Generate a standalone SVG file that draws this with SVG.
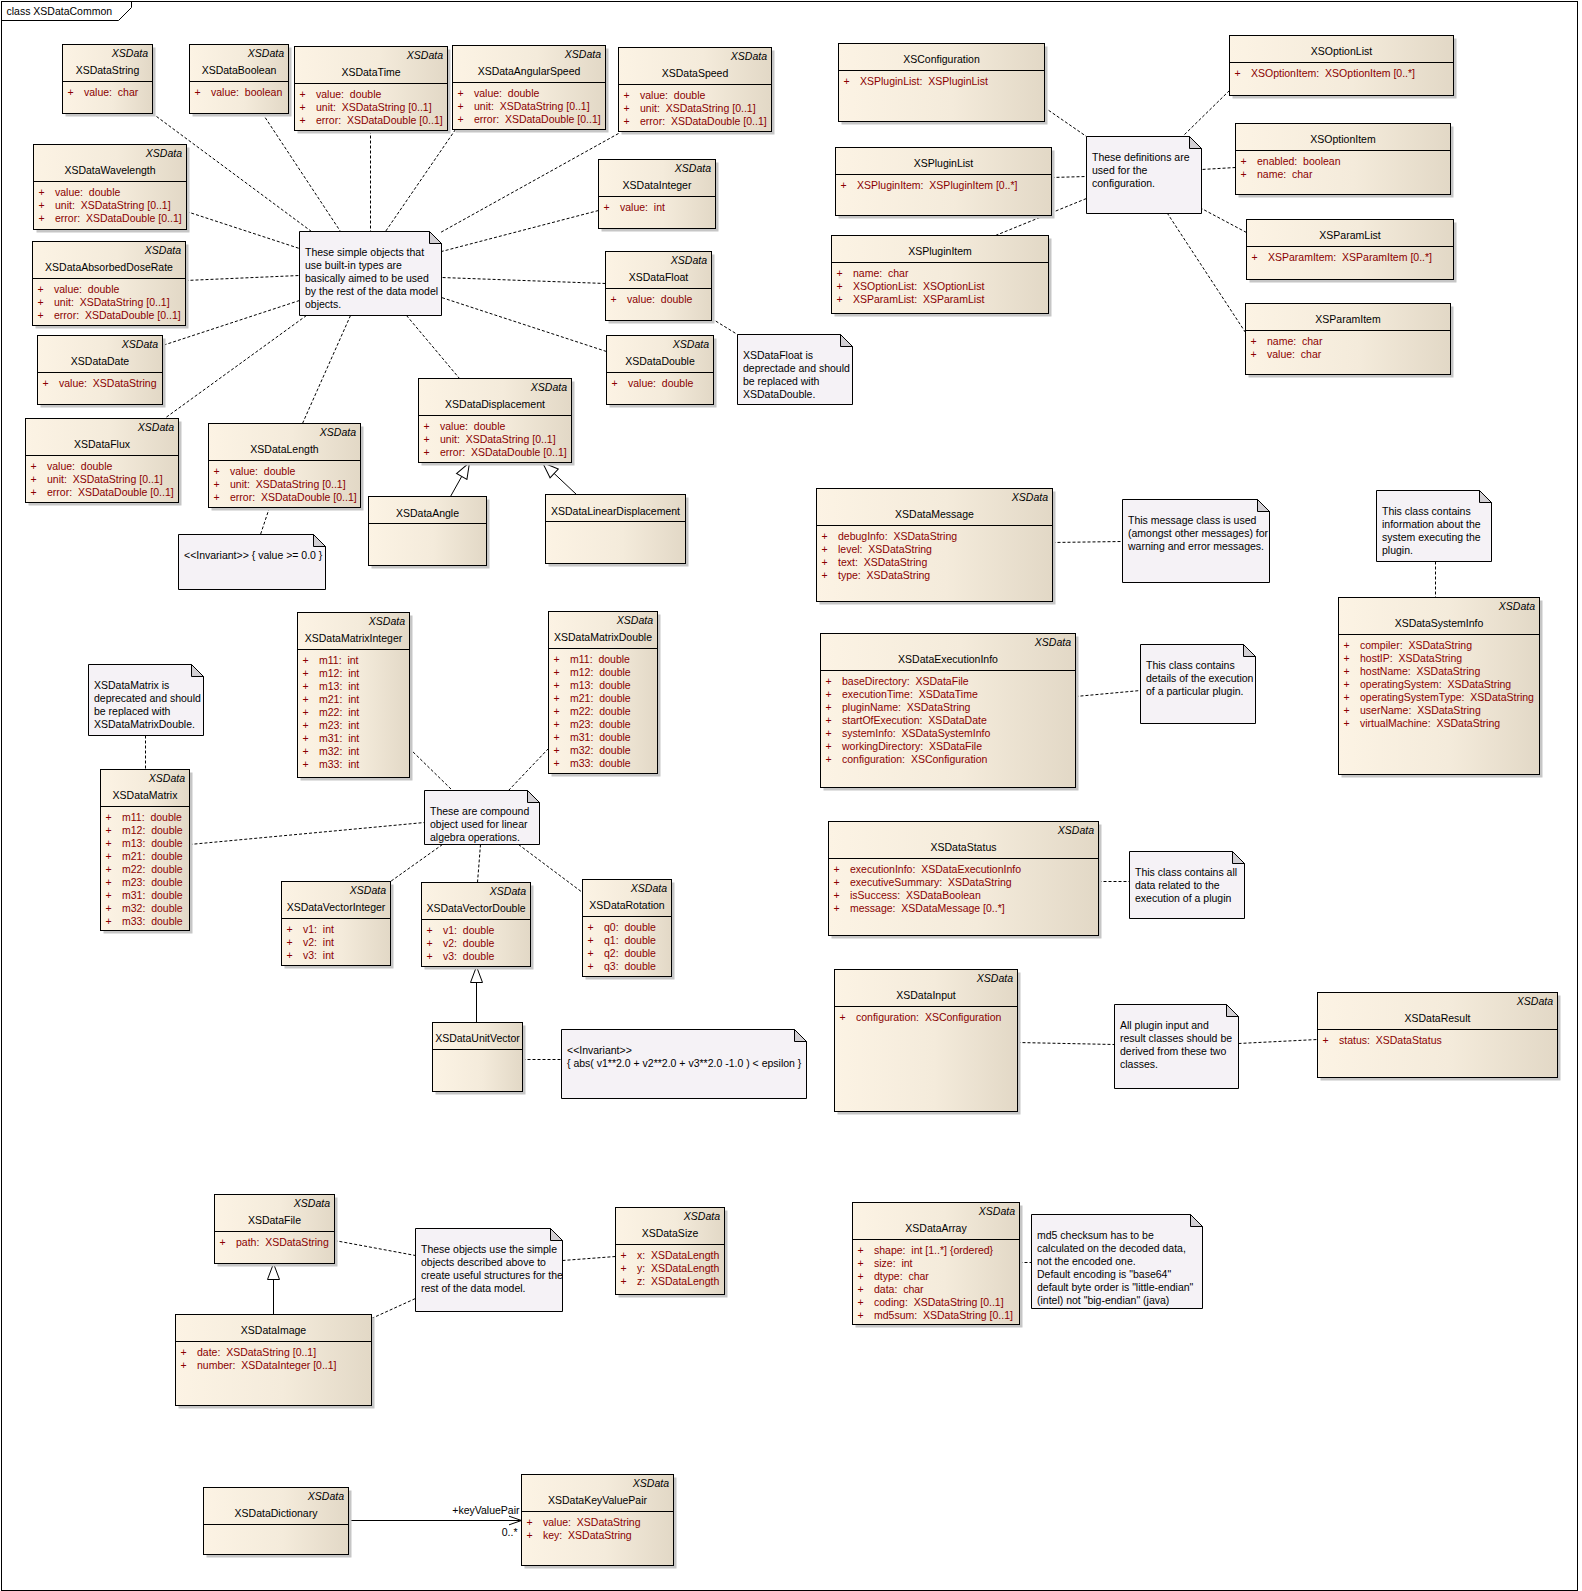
<svg xmlns="http://www.w3.org/2000/svg" width="1582" height="1591" viewBox="0 0 1582 1591">
<defs>
<linearGradient id="g" x1="0" y1="0" x2="1" y2="0">
<stop offset="0" stop-color="#FCF3E4"/>
<stop offset="0.55" stop-color="#F4EBDB"/>
<stop offset="1" stop-color="#E2D8C6"/>
</linearGradient>
<marker id="tri" viewBox="0 0 18 14" refX="17" refY="7" markerWidth="18" markerHeight="14" markerUnits="userSpaceOnUse" orient="auto"><path d="M1,1 L17,7 L1,13 Z" fill="#fff" stroke="#000"/></marker>
<marker id="opn" viewBox="0 0 14 12" refX="13" refY="6" markerWidth="14" markerHeight="12" markerUnits="userSpaceOnUse" orient="auto"><path d="M0,1.5 L13,6 L0,10.5" fill="none" stroke="#000"/></marker>
<style>
text{font-family:"Liberation Sans",Arial,sans-serif;font-size:10.5px;fill:#000;white-space:pre}
.st{font-style:italic;text-anchor:end}
.nm{text-anchor:middle}
.at{fill:#8A0000}
.sh{fill:#C6C6C6}
.bx{fill:url(#g);stroke:#000;stroke-width:1}
.dv{stroke:#000;stroke-width:1}
.nt{fill:#F5F2F6;stroke:#000;stroke-width:1}
.fd{fill:#D2CFD3;stroke:#000;stroke-width:1}
.cn{fill:none;stroke:#000;stroke-width:1;stroke-dasharray:3 2}
.ln{fill:none;stroke:#000;stroke-width:1}
</style>
</defs>
<rect x="0" y="0" width="1582" height="1591" fill="#fff"/>
<g transform="translate(0.5,0.5)">
<g id="frame">
<rect x="1" y="1" width="1576" height="1589" fill="none" stroke="#000"/>
<path d="M1,20 L118,20 L131,7 L131,1" fill="none" stroke="#000"/>
<text x="6" y="14">class XSDataCommon</text>
</g>

<g id="connectors">
<line class="cn" x1="152" y1="113" x2="311" y2="231"/>
<line class="cn" x1="262" y1="113" x2="340" y2="231"/>
<line class="cn" x1="370" y1="130" x2="370" y2="231"/>
<line class="cn" x1="455" y1="129" x2="385" y2="231"/>
<line class="cn" x1="618" y1="133" x2="440" y2="232"/>
<line class="cn" x1="598" y1="210" x2="441" y2="251"/>
<line class="cn" x1="605" y1="283" x2="441" y2="277"/>
<line class="cn" x1="606" y1="351" x2="441" y2="297"/>
<line class="cn" x1="406" y1="315" x2="459" y2="378"/>
<line class="cn" x1="350" y1="315" x2="302" y2="423"/>
<line class="cn" x1="306" y1="315" x2="164" y2="418"/>
<line class="cn" x1="299" y1="300" x2="162" y2="345"/>
<line class="cn" x1="185" y1="280" x2="299" y2="275"/>
<line class="cn" x1="186" y1="211" x2="299" y2="248"/>
<line class="cn" x1="711" y1="318" x2="737" y2="334"/>
<line class="cn" x1="269" y1="507" x2="260" y2="534"/>
<line class="ln" x1="450" y1="496" x2="469" y2="462" marker-end="url(#tri)"/>
<line class="ln" x1="576" y1="494" x2="542" y2="462" marker-end="url(#tri)"/>
<line class="cn" x1="1044" y1="107" x2="1086" y2="136"/>
<line class="cn" x1="1051" y1="177" x2="1086" y2="176"/>
<line class="cn" x1="995" y1="235" x2="1086" y2="198"/>
<line class="cn" x1="1229" y1="90" x2="1182" y2="136"/>
<line class="cn" x1="1235" y1="167" x2="1201" y2="169"/>
<line class="cn" x1="1246" y1="232" x2="1201" y2="208"/>
<line class="cn" x1="1245" y1="332" x2="1167" y2="213"/>
<line class="cn" x1="1052" y1="542" x2="1122" y2="541"/>
<line class="cn" x1="1075" y1="696" x2="1140" y2="690"/>
<line class="cn" x1="1435" y1="561" x2="1435" y2="597"/>
<line class="cn" x1="1098" y1="881" x2="1129" y2="881"/>
<line class="cn" x1="1017" y1="1042" x2="1114" y2="1044"/>
<line class="cn" x1="1238" y1="1043" x2="1317" y2="1039"/>
<line class="cn" x1="145" y1="735" x2="145" y2="769"/>
<line class="cn" x1="409" y1="748" x2="452" y2="790"/>
<line class="cn" x1="548" y1="748" x2="508" y2="790"/>
<line class="cn" x1="189" y1="844" x2="424" y2="822"/>
<line class="cn" x1="442" y1="844" x2="390" y2="881"/>
<line class="cn" x1="480" y1="844" x2="477" y2="882"/>
<line class="cn" x1="518" y1="844" x2="582" y2="892"/>
<line class="ln" x1="476" y1="1022" x2="476" y2="966" marker-end="url(#tri)"/>
<line class="cn" x1="522" y1="1059" x2="561" y2="1059"/>
<line class="ln" x1="273" y1="1314" x2="273" y2="1263" marker-end="url(#tri)"/>
<line class="cn" x1="334" y1="1240" x2="415" y2="1255"/>
<line class="cn" x1="371" y1="1318" x2="415" y2="1298"/>
<line class="cn" x1="562" y1="1260" x2="615" y2="1256"/>
<line class="cn" x1="1019" y1="1262" x2="1031" y2="1262"/>
<line class="ln" x1="348" y1="1520" x2="521" y2="1520" marker-end="url(#opn)"/>
<text x="519" y="1513" text-anchor="end">+keyValuePair</text>
<text x="517" y="1535" text-anchor="end">0..*</text>
</g>

<g id="XSDataString">
<rect class="sh" x="65" y="47" width="90" height="69"/><rect class="bx" x="62" y="44" width="90" height="69"/>
<line class="dv" x1="62" y1="81" x2="152" y2="81"/>
<text class="st" x="147.5" y="56.5">XSData</text><text class="nm" x="107" y="73">XSDataString</text>
<text class="at" x="67" y="95">+</text><text class="at" x="83.5" y="95">value:  char</text>
</g>
<g id="XSDataBoolean">
<rect class="sh" x="192" y="47" width="99" height="69"/><rect class="bx" x="189" y="44" width="99" height="69"/>
<line class="dv" x1="189" y1="81" x2="288" y2="81"/>
<text class="st" x="283.5" y="56.5">XSData</text><text class="nm" x="238.5" y="73">XSDataBoolean</text>
<text class="at" x="194" y="95">+</text><text class="at" x="210.5" y="95">value:  boolean</text>
</g>
<g id="XSDataTime">
<rect class="sh" x="297" y="49" width="153" height="84"/><rect class="bx" x="294" y="46" width="153" height="84"/>
<line class="dv" x1="294" y1="83" x2="447" y2="83"/>
<text class="st" x="442.5" y="58.5">XSData</text><text class="nm" x="370.5" y="75">XSDataTime</text>
<text class="at" x="299" y="97">+</text><text class="at" x="315.5" y="97">value:  double</text>
<text class="at" x="299" y="110">+</text><text class="at" x="315.5" y="110">unit:  XSDataString [0..1]</text>
<text class="at" x="299" y="123">+</text><text class="at" x="315.5" y="123">error:  XSDataDouble [0..1]</text>
</g>
<g id="XSDataAngularSpeed">
<rect class="sh" x="455" y="48" width="153" height="84"/><rect class="bx" x="452" y="45" width="153" height="84"/>
<line class="dv" x1="452" y1="82" x2="605" y2="82"/>
<text class="st" x="600.5" y="57.5">XSData</text><text class="nm" x="528.5" y="74">XSDataAngularSpeed</text>
<text class="at" x="457" y="96">+</text><text class="at" x="473.5" y="96">value:  double</text>
<text class="at" x="457" y="109">+</text><text class="at" x="473.5" y="109">unit:  XSDataString [0..1]</text>
<text class="at" x="457" y="122">+</text><text class="at" x="473.5" y="122">error:  XSDataDouble [0..1]</text>
</g>
<g id="XSDataSpeed">
<rect class="sh" x="621" y="50" width="153" height="84"/><rect class="bx" x="618" y="47" width="153" height="84"/>
<line class="dv" x1="618" y1="84" x2="771" y2="84"/>
<text class="st" x="766.5" y="59.5">XSData</text><text class="nm" x="694.5" y="76">XSDataSpeed</text>
<text class="at" x="623" y="98">+</text><text class="at" x="639.5" y="98">value:  double</text>
<text class="at" x="623" y="111">+</text><text class="at" x="639.5" y="111">unit:  XSDataString [0..1]</text>
<text class="at" x="623" y="124">+</text><text class="at" x="639.5" y="124">error:  XSDataDouble [0..1]</text>
</g>
<g id="XSDataInteger">
<rect class="sh" x="601" y="162" width="117" height="69"/><rect class="bx" x="598" y="159" width="117" height="69"/>
<line class="dv" x1="598" y1="196" x2="715" y2="196"/>
<text class="st" x="710.5" y="171.5">XSData</text><text class="nm" x="656.5" y="188">XSDataInteger</text>
<text class="at" x="603" y="210">+</text><text class="at" x="619.5" y="210">value:  int</text>
</g>
<g id="XSDataFloat">
<rect class="sh" x="608" y="254" width="106" height="69"/><rect class="bx" x="605" y="251" width="106" height="69"/>
<line class="dv" x1="605" y1="288" x2="711" y2="288"/>
<text class="st" x="706.5" y="263.5">XSData</text><text class="nm" x="658" y="280">XSDataFloat</text>
<text class="at" x="610" y="302">+</text><text class="at" x="626.5" y="302">value:  double</text>
</g>
<g id="XSDataDouble">
<rect class="sh" x="609" y="338" width="107" height="69"/><rect class="bx" x="606" y="335" width="107" height="69"/>
<line class="dv" x1="606" y1="372" x2="713" y2="372"/>
<text class="st" x="708.5" y="347.5">XSData</text><text class="nm" x="659.5" y="364">XSDataDouble</text>
<text class="at" x="611" y="386">+</text><text class="at" x="627.5" y="386">value:  double</text>
</g>
<g id="XSDataWavelength">
<rect class="sh" x="36" y="147" width="153" height="85"/><rect class="bx" x="33" y="144" width="153" height="85"/>
<line class="dv" x1="33" y1="181" x2="186" y2="181"/>
<text class="st" x="181.5" y="156.5">XSData</text><text class="nm" x="109.5" y="173">XSDataWavelength</text>
<text class="at" x="38" y="195">+</text><text class="at" x="54.5" y="195">value:  double</text>
<text class="at" x="38" y="208">+</text><text class="at" x="54.5" y="208">unit:  XSDataString [0..1]</text>
<text class="at" x="38" y="221">+</text><text class="at" x="54.5" y="221">error:  XSDataDouble [0..1]</text>
</g>
<g id="XSDataAbsorbedDoseRate">
<rect class="sh" x="35" y="244" width="153" height="84"/><rect class="bx" x="32" y="241" width="153" height="84"/>
<line class="dv" x1="32" y1="278" x2="185" y2="278"/>
<text class="st" x="180.5" y="253.5">XSData</text><text class="nm" x="108.5" y="270">XSDataAbsorbedDoseRate</text>
<text class="at" x="37" y="292">+</text><text class="at" x="53.5" y="292">value:  double</text>
<text class="at" x="37" y="305">+</text><text class="at" x="53.5" y="305">unit:  XSDataString [0..1]</text>
<text class="at" x="37" y="318">+</text><text class="at" x="53.5" y="318">error:  XSDataDouble [0..1]</text>
</g>
<g id="XSDataDate">
<rect class="sh" x="40" y="338" width="125" height="69"/><rect class="bx" x="37" y="335" width="125" height="69"/>
<line class="dv" x1="37" y1="372" x2="162" y2="372"/>
<text class="st" x="157.5" y="347.5">XSData</text><text class="nm" x="99.5" y="364">XSDataDate</text>
<text class="at" x="42" y="386">+</text><text class="at" x="58.5" y="386">value:  XSDataString</text>
</g>
<g id="XSDataFlux">
<rect class="sh" x="28" y="421" width="153" height="84"/><rect class="bx" x="25" y="418" width="153" height="84"/>
<line class="dv" x1="25" y1="455" x2="178" y2="455"/>
<text class="st" x="173.5" y="430.5">XSData</text><text class="nm" x="101.5" y="447">XSDataFlux</text>
<text class="at" x="30" y="469">+</text><text class="at" x="46.5" y="469">value:  double</text>
<text class="at" x="30" y="482">+</text><text class="at" x="46.5" y="482">unit:  XSDataString [0..1]</text>
<text class="at" x="30" y="495">+</text><text class="at" x="46.5" y="495">error:  XSDataDouble [0..1]</text>
</g>
<g id="XSDataLength">
<rect class="sh" x="211" y="426" width="152" height="84"/><rect class="bx" x="208" y="423" width="152" height="84"/>
<line class="dv" x1="208" y1="460" x2="360" y2="460"/>
<text class="st" x="355.5" y="435.5">XSData</text><text class="nm" x="284" y="452">XSDataLength</text>
<text class="at" x="213" y="474">+</text><text class="at" x="229.5" y="474">value:  double</text>
<text class="at" x="213" y="487">+</text><text class="at" x="229.5" y="487">unit:  XSDataString [0..1]</text>
<text class="at" x="213" y="500">+</text><text class="at" x="229.5" y="500">error:  XSDataDouble [0..1]</text>
</g>
<g id="XSDataDisplacement">
<rect class="sh" x="421" y="381" width="153" height="84"/><rect class="bx" x="418" y="378" width="153" height="84"/>
<line class="dv" x1="418" y1="415" x2="571" y2="415"/>
<text class="st" x="566.5" y="390.5">XSData</text><text class="nm" x="494.5" y="407">XSDataDisplacement</text>
<text class="at" x="423" y="429">+</text><text class="at" x="439.5" y="429">value:  double</text>
<text class="at" x="423" y="442">+</text><text class="at" x="439.5" y="442">unit:  XSDataString [0..1]</text>
<text class="at" x="423" y="455">+</text><text class="at" x="439.5" y="455">error:  XSDataDouble [0..1]</text>
</g>
<g id="XSDataAngle">
<rect class="sh" x="371" y="499" width="118" height="69"/><rect class="bx" x="368" y="496" width="118" height="69"/>
<line class="dv" x1="368" y1="523" x2="486" y2="523"/>
<text class="nm" x="427" y="516">XSDataAngle</text>
</g>
<g id="XSDataLinearDisplacement">
<rect class="sh" x="548" y="497" width="140" height="69"/><rect class="bx" x="545" y="494" width="140" height="69"/>
<line class="dv" x1="545" y1="521" x2="685" y2="521"/>
<text class="nm" x="615" y="514">XSDataLinearDisplacement</text>
</g>
<g id="note-simple">
<path class="nt" d="M299,231 H429 L441,243 V315 H299 Z"/><path class="fd" d="M429,231 V243 H441 Z"/>
<text x="304.5" y="255">These simple objects that</text>
<text x="304.5" y="268">use built-in types are</text>
<text x="304.5" y="281">basically aimed to be used</text>
<text x="304.5" y="294">by the rest of the data model</text>
<text x="304.5" y="307">objects.</text>
</g>
<g id="note-float">
<path class="nt" d="M737,334 H840 L852,346 V404 H737 Z"/><path class="fd" d="M840,334 V346 H852 Z"/>
<text x="742.5" y="358.5">XSDataFloat is</text>
<text x="742.5" y="371.5">deprectade and should</text>
<text x="742.5" y="384.5">be replaced with</text>
<text x="742.5" y="397.5">XSDataDouble.</text>
</g>
<g id="note-length">
<path class="nt" d="M178,534 H313 L325,546 V589 H178 Z"/><path class="fd" d="M313,534 V546 H325 Z"/>
<text x="183.5" y="558">&lt;&lt;Invariant&gt;&gt; { value &gt;= 0.0 }</text>
</g>

<g id="XSConfiguration">
<rect class="sh" x="841" y="46" width="206" height="78"/><rect class="bx" x="838" y="43" width="206" height="78"/>
<line class="dv" x1="838" y1="70" x2="1044" y2="70"/>
<text class="nm" x="941" y="62.5">XSConfiguration</text>
<text class="at" x="843" y="84">+</text><text class="at" x="859.5" y="84">XSPluginList:  XSPluginList</text>
</g>
<g id="XSPluginList">
<rect class="sh" x="838" y="150" width="216" height="68"/><rect class="bx" x="835" y="147" width="216" height="68"/>
<line class="dv" x1="835" y1="174" x2="1051" y2="174"/>
<text class="nm" x="943" y="166.5">XSPluginList</text>
<text class="at" x="840" y="188">+</text><text class="at" x="856.5" y="188">XSPluginItem:  XSPluginItem [0..*]</text>
</g>
<g id="XSPluginItem">
<rect class="sh" x="834" y="238" width="217" height="78"/><rect class="bx" x="831" y="235" width="217" height="78"/>
<line class="dv" x1="831" y1="262" x2="1048" y2="262"/>
<text class="nm" x="939.5" y="254.5">XSPluginItem</text>
<text class="at" x="836" y="276">+</text><text class="at" x="852.5" y="276">name:  char</text>
<text class="at" x="836" y="289">+</text><text class="at" x="852.5" y="289">XSOptionList:  XSOptionList</text>
<text class="at" x="836" y="302">+</text><text class="at" x="852.5" y="302">XSParamList:  XSParamList</text>
</g>
<g id="note-config">
<path class="nt" d="M1086,136 H1189 L1201,148 V213 H1086 Z"/><path class="fd" d="M1189,136 V148 H1201 Z"/>
<text x="1091.5" y="160">These definitions are</text>
<text x="1091.5" y="173">used for the</text>
<text x="1091.5" y="186">configuration.</text>
</g>
<g id="XSOptionList">
<rect class="sh" x="1232" y="38" width="224" height="60"/><rect class="bx" x="1229" y="35" width="224" height="60"/>
<line class="dv" x1="1229" y1="62" x2="1453" y2="62"/>
<text class="nm" x="1341" y="54.5">XSOptionList</text>
<text class="at" x="1234" y="76">+</text><text class="at" x="1250.5" y="76">XSOptionItem:  XSOptionItem [0..*]</text>
</g>
<g id="XSOptionItem">
<rect class="sh" x="1238" y="126" width="215" height="71"/><rect class="bx" x="1235" y="123" width="215" height="71"/>
<line class="dv" x1="1235" y1="150" x2="1450" y2="150"/>
<text class="nm" x="1342.5" y="142.5">XSOptionItem</text>
<text class="at" x="1240" y="164">+</text><text class="at" x="1256.5" y="164">enabled:  boolean</text>
<text class="at" x="1240" y="177">+</text><text class="at" x="1256.5" y="177">name:  char</text>
</g>
<g id="XSParamList">
<rect class="sh" x="1249" y="222" width="207" height="60"/><rect class="bx" x="1246" y="219" width="207" height="60"/>
<line class="dv" x1="1246" y1="246" x2="1453" y2="246"/>
<text class="nm" x="1349.5" y="238.5">XSParamList</text>
<text class="at" x="1251" y="260">+</text><text class="at" x="1267.5" y="260">XSParamItem:  XSParamItem [0..*]</text>
</g>
<g id="XSParamItem">
<rect class="sh" x="1248" y="306" width="205" height="71"/><rect class="bx" x="1245" y="303" width="205" height="71"/>
<line class="dv" x1="1245" y1="330" x2="1450" y2="330"/>
<text class="nm" x="1347.5" y="322.5">XSParamItem</text>
<text class="at" x="1250" y="344">+</text><text class="at" x="1266.5" y="344">name:  char</text>
<text class="at" x="1250" y="357">+</text><text class="at" x="1266.5" y="357">value:  char</text>
</g>

<g id="XSDataMessage">
<rect class="sh" x="819" y="491" width="236" height="113"/><rect class="bx" x="816" y="488" width="236" height="113"/>
<line class="dv" x1="816" y1="525" x2="1052" y2="525"/>
<text class="st" x="1047.5" y="500.5">XSData</text><text class="nm" x="934" y="517">XSDataMessage</text>
<text class="at" x="821" y="539">+</text><text class="at" x="837.5" y="539">debugInfo:  XSDataString</text>
<text class="at" x="821" y="552">+</text><text class="at" x="837.5" y="552">level:  XSDataString</text>
<text class="at" x="821" y="565">+</text><text class="at" x="837.5" y="565">text:  XSDataString</text>
<text class="at" x="821" y="578">+</text><text class="at" x="837.5" y="578">type:  XSDataString</text>
</g>
<g id="note-message">
<path class="nt" d="M1122,499 H1257 L1269,511 V582 H1122 Z"/><path class="fd" d="M1257,499 V511 H1269 Z"/>
<text x="1127.5" y="523.5">This message class is used</text>
<text x="1127.5" y="536.5">(amongst other messages) for</text>
<text x="1127.5" y="549.5">warning and error messages.</text>
</g>
<g id="XSDataExecutionInfo">
<rect class="sh" x="823" y="636" width="255" height="154"/><rect class="bx" x="820" y="633" width="255" height="154"/>
<line class="dv" x1="820" y1="670" x2="1075" y2="670"/>
<text class="st" x="1070.5" y="645.5">XSData</text><text class="nm" x="947.5" y="662">XSDataExecutionInfo</text>
<text class="at" x="825" y="684">+</text><text class="at" x="841.5" y="684">baseDirectory:  XSDataFile</text>
<text class="at" x="825" y="697">+</text><text class="at" x="841.5" y="697">executionTime:  XSDataTime</text>
<text class="at" x="825" y="710">+</text><text class="at" x="841.5" y="710">pluginName:  XSDataString</text>
<text class="at" x="825" y="723">+</text><text class="at" x="841.5" y="723">startOfExecution:  XSDataDate</text>
<text class="at" x="825" y="736">+</text><text class="at" x="841.5" y="736">systemInfo:  XSDataSystemInfo</text>
<text class="at" x="825" y="749">+</text><text class="at" x="841.5" y="749">workingDirectory:  XSDataFile</text>
<text class="at" x="825" y="762">+</text><text class="at" x="841.5" y="762">configuration:  XSConfiguration</text>
</g>
<g id="note-execution">
<path class="nt" d="M1140,644 H1243 L1255,656 V723 H1140 Z"/><path class="fd" d="M1243,644 V656 H1255 Z"/>
<text x="1145.5" y="668.5">This class contains</text>
<text x="1145.5" y="681.5">details of the execution</text>
<text x="1145.5" y="694.5">of a particular plugin.</text>
</g>
<g id="note-system">
<path class="nt" d="M1376,490 H1479 L1491,502 V561 H1376 Z"/><path class="fd" d="M1479,490 V502 H1491 Z"/>
<text x="1381.5" y="514">This class contains</text>
<text x="1381.5" y="527">information about the</text>
<text x="1381.5" y="540">system executing the</text>
<text x="1381.5" y="553">plugin.</text>
</g>
<g id="XSDataSystemInfo">
<rect class="sh" x="1341" y="600" width="201" height="177"/><rect class="bx" x="1338" y="597" width="201" height="177"/>
<line class="dv" x1="1338" y1="634" x2="1539" y2="634"/>
<text class="st" x="1534.5" y="609.5">XSData</text><text class="nm" x="1438.5" y="626">XSDataSystemInfo</text>
<text class="at" x="1343" y="648">+</text><text class="at" x="1359.5" y="648">compiler:  XSDataString</text>
<text class="at" x="1343" y="661">+</text><text class="at" x="1359.5" y="661">hostIP:  XSDataString</text>
<text class="at" x="1343" y="674">+</text><text class="at" x="1359.5" y="674">hostName:  XSDataString</text>
<text class="at" x="1343" y="687">+</text><text class="at" x="1359.5" y="687">operatingSystem:  XSDataString</text>
<text class="at" x="1343" y="700">+</text><text class="at" x="1359.5" y="700">operatingSystemType:  XSDataString</text>
<text class="at" x="1343" y="713">+</text><text class="at" x="1359.5" y="713">userName:  XSDataString</text>
<text class="at" x="1343" y="726">+</text><text class="at" x="1359.5" y="726">virtualMachine:  XSDataString</text>
</g>
<g id="XSDataStatus">
<rect class="sh" x="831" y="824" width="270" height="114"/><rect class="bx" x="828" y="821" width="270" height="114"/>
<line class="dv" x1="828" y1="858" x2="1098" y2="858"/>
<text class="st" x="1093.5" y="833.5">XSData</text><text class="nm" x="963" y="850">XSDataStatus</text>
<text class="at" x="833" y="872">+</text><text class="at" x="849.5" y="872">executionInfo:  XSDataExecutionInfo</text>
<text class="at" x="833" y="885">+</text><text class="at" x="849.5" y="885">executiveSummary:  XSDataString</text>
<text class="at" x="833" y="898">+</text><text class="at" x="849.5" y="898">isSuccess:  XSDataBoolean</text>
<text class="at" x="833" y="911">+</text><text class="at" x="849.5" y="911">message:  XSDataMessage [0..*]</text>
</g>
<g id="note-status">
<path class="nt" d="M1129,851 H1232 L1244,863 V918 H1129 Z"/><path class="fd" d="M1232,851 V863 H1244 Z"/>
<text x="1134.5" y="875">This class contains all</text>
<text x="1134.5" y="888">data related to the</text>
<text x="1134.5" y="901">execution of a plugin</text>
</g>
<g id="XSDataInput">
<rect class="sh" x="837" y="972" width="183" height="142"/><rect class="bx" x="834" y="969" width="183" height="142"/>
<line class="dv" x1="834" y1="1006" x2="1017" y2="1006"/>
<text class="st" x="1012.5" y="981.5">XSData</text><text class="nm" x="925.5" y="998">XSDataInput</text>
<text class="at" x="839" y="1020">+</text><text class="at" x="855.5" y="1020">configuration:  XSConfiguration</text>
</g>
<g id="note-plugin">
<path class="nt" d="M1114,1004 H1226 L1238,1016 V1088 H1114 Z"/><path class="fd" d="M1226,1004 V1016 H1238 Z"/>
<text x="1119.5" y="1028.5">All plugin input and</text>
<text x="1119.5" y="1041.5">result classes should be</text>
<text x="1119.5" y="1054.5">derived from these two</text>
<text x="1119.5" y="1067.5">classes.</text>
</g>
<g id="XSDataResult">
<rect class="sh" x="1320" y="995" width="240" height="85"/><rect class="bx" x="1317" y="992" width="240" height="85"/>
<line class="dv" x1="1317" y1="1029" x2="1557" y2="1029"/>
<text class="st" x="1552.5" y="1004.5">XSData</text><text class="nm" x="1437" y="1021">XSDataResult</text>
<text class="at" x="1322" y="1043">+</text><text class="at" x="1338.5" y="1043">status:  XSDataStatus</text>
</g>

<g id="note-matrix">
<path class="nt" d="M88,664 H191 L203,676 V735 H88 Z"/><path class="fd" d="M191,664 V676 H203 Z"/>
<text x="93.5" y="688">XSDataMatrix is</text>
<text x="93.5" y="701">deprecated and should</text>
<text x="93.5" y="714">be replaced with</text>
<text x="93.5" y="727">XSDataMatrixDouble.</text>
</g>
<g id="XSDataMatrix">
<rect class="sh" x="103" y="772" width="89" height="161"/><rect class="bx" x="100" y="769" width="89" height="161"/>
<line class="dv" x1="100" y1="806" x2="189" y2="806"/>
<text class="st" x="184.5" y="781.5">XSData</text><text class="nm" x="144.5" y="798">XSDataMatrix</text>
<text class="at" x="105" y="820">+</text><text class="at" x="121.5" y="820">m11:  double</text>
<text class="at" x="105" y="833">+</text><text class="at" x="121.5" y="833">m12:  double</text>
<text class="at" x="105" y="846">+</text><text class="at" x="121.5" y="846">m13:  double</text>
<text class="at" x="105" y="859">+</text><text class="at" x="121.5" y="859">m21:  double</text>
<text class="at" x="105" y="872">+</text><text class="at" x="121.5" y="872">m22:  double</text>
<text class="at" x="105" y="885">+</text><text class="at" x="121.5" y="885">m23:  double</text>
<text class="at" x="105" y="898">+</text><text class="at" x="121.5" y="898">m31:  double</text>
<text class="at" x="105" y="911">+</text><text class="at" x="121.5" y="911">m32:  double</text>
<text class="at" x="105" y="924">+</text><text class="at" x="121.5" y="924">m33:  double</text>
</g>
<g id="XSDataMatrixInteger">
<rect class="sh" x="300" y="615" width="112" height="165"/><rect class="bx" x="297" y="612" width="112" height="165"/>
<line class="dv" x1="297" y1="649" x2="409" y2="649"/>
<text class="st" x="404.5" y="624.5">XSData</text><text class="nm" x="353" y="641">XSDataMatrixInteger</text>
<text class="at" x="302" y="663">+</text><text class="at" x="318.5" y="663">m11:  int</text>
<text class="at" x="302" y="676">+</text><text class="at" x="318.5" y="676">m12:  int</text>
<text class="at" x="302" y="689">+</text><text class="at" x="318.5" y="689">m13:  int</text>
<text class="at" x="302" y="702">+</text><text class="at" x="318.5" y="702">m21:  int</text>
<text class="at" x="302" y="715">+</text><text class="at" x="318.5" y="715">m22:  int</text>
<text class="at" x="302" y="728">+</text><text class="at" x="318.5" y="728">m23:  int</text>
<text class="at" x="302" y="741">+</text><text class="at" x="318.5" y="741">m31:  int</text>
<text class="at" x="302" y="754">+</text><text class="at" x="318.5" y="754">m32:  int</text>
<text class="at" x="302" y="767">+</text><text class="at" x="318.5" y="767">m33:  int</text>
</g>
<g id="XSDataMatrixDouble">
<rect class="sh" x="551" y="614" width="109" height="162"/><rect class="bx" x="548" y="611" width="109" height="162"/>
<line class="dv" x1="548" y1="648" x2="657" y2="648"/>
<text class="st" x="652.5" y="623.5">XSData</text><text class="nm" x="602.5" y="640">XSDataMatrixDouble</text>
<text class="at" x="553" y="662">+</text><text class="at" x="569.5" y="662">m11:  double</text>
<text class="at" x="553" y="675">+</text><text class="at" x="569.5" y="675">m12:  double</text>
<text class="at" x="553" y="688">+</text><text class="at" x="569.5" y="688">m13:  double</text>
<text class="at" x="553" y="701">+</text><text class="at" x="569.5" y="701">m21:  double</text>
<text class="at" x="553" y="714">+</text><text class="at" x="569.5" y="714">m22:  double</text>
<text class="at" x="553" y="727">+</text><text class="at" x="569.5" y="727">m23:  double</text>
<text class="at" x="553" y="740">+</text><text class="at" x="569.5" y="740">m31:  double</text>
<text class="at" x="553" y="753">+</text><text class="at" x="569.5" y="753">m32:  double</text>
<text class="at" x="553" y="766">+</text><text class="at" x="569.5" y="766">m33:  double</text>
</g>
<g id="note-linear">
<path class="nt" d="M424,790 H527 L539,802 V844 H424 Z"/><path class="fd" d="M527,790 V802 H539 Z"/>
<text x="429.5" y="814">These are compound</text>
<text x="429.5" y="827">object used for linear</text>
<text x="429.5" y="840">algebra operations.</text>
</g>
<g id="XSDataVectorInteger">
<rect class="sh" x="284" y="884" width="109" height="84"/><rect class="bx" x="281" y="881" width="109" height="84"/>
<line class="dv" x1="281" y1="918" x2="390" y2="918"/>
<text class="st" x="385.5" y="893.5">XSData</text><text class="nm" x="335.5" y="910">XSDataVectorInteger</text>
<text class="at" x="286" y="932">+</text><text class="at" x="302.5" y="932">v1:  int</text>
<text class="at" x="286" y="945">+</text><text class="at" x="302.5" y="945">v2:  int</text>
<text class="at" x="286" y="958">+</text><text class="at" x="302.5" y="958">v3:  int</text>
</g>
<g id="XSDataVectorDouble">
<rect class="sh" x="424" y="885" width="109" height="84"/><rect class="bx" x="421" y="882" width="109" height="84"/>
<line class="dv" x1="421" y1="919" x2="530" y2="919"/>
<text class="st" x="525.5" y="894.5">XSData</text><text class="nm" x="475.5" y="911">XSDataVectorDouble</text>
<text class="at" x="426" y="933">+</text><text class="at" x="442.5" y="933">v1:  double</text>
<text class="at" x="426" y="946">+</text><text class="at" x="442.5" y="946">v2:  double</text>
<text class="at" x="426" y="959">+</text><text class="at" x="442.5" y="959">v3:  double</text>
</g>
<g id="XSDataRotation">
<rect class="sh" x="585" y="882" width="89" height="97"/><rect class="bx" x="582" y="879" width="89" height="97"/>
<line class="dv" x1="582" y1="916" x2="671" y2="916"/>
<text class="st" x="666.5" y="891.5">XSData</text><text class="nm" x="626.5" y="908">XSDataRotation</text>
<text class="at" x="587" y="930">+</text><text class="at" x="603.5" y="930">q0:  double</text>
<text class="at" x="587" y="943">+</text><text class="at" x="603.5" y="943">q1:  double</text>
<text class="at" x="587" y="956">+</text><text class="at" x="603.5" y="956">q2:  double</text>
<text class="at" x="587" y="969">+</text><text class="at" x="603.5" y="969">q3:  double</text>
</g>
<g id="XSDataUnitVector">
<rect class="sh" x="435" y="1025" width="90" height="69"/><rect class="bx" x="432" y="1022" width="90" height="69"/>
<line class="dv" x1="432" y1="1049" x2="522" y2="1049"/>
<text class="nm" x="477" y="1041.5">XSDataUnitVector</text>
</g>
<g id="note-unitvector">
<path class="nt" d="M561,1029 H794 L806,1041 V1098 H561 Z"/><path class="fd" d="M794,1029 V1041 H806 Z"/>
<text x="566.5" y="1053">&lt;&lt;Invariant&gt;&gt;</text>
<text x="566.5" y="1066">{ abs( v1**2.0 + v2**2.0 + v3**2.0 -1.0 ) &lt; epsilon }</text>
</g>

<g id="XSDataFile">
<rect class="sh" x="217" y="1197" width="120" height="69"/><rect class="bx" x="214" y="1194" width="120" height="69"/>
<line class="dv" x1="214" y1="1231" x2="334" y2="1231"/>
<text class="st" x="329.5" y="1206.5">XSData</text><text class="nm" x="274" y="1223">XSDataFile</text>
<text class="at" x="219" y="1245">+</text><text class="at" x="235.5" y="1245">path:  XSDataString</text>
</g>
<g id="XSDataImage">
<rect class="sh" x="178" y="1317" width="196" height="91"/><rect class="bx" x="175" y="1314" width="196" height="91"/>
<line class="dv" x1="175" y1="1341" x2="371" y2="1341"/>
<text class="nm" x="273" y="1333.5">XSDataImage</text>
<text class="at" x="180" y="1355">+</text><text class="at" x="196.5" y="1355">date:  XSDataString [0..1]</text>
<text class="at" x="180" y="1368">+</text><text class="at" x="196.5" y="1368">number:  XSDataInteger [0..1]</text>
</g>
<g id="note-structures">
<path class="nt" d="M415,1228 H550 L562,1240 V1311 H415 Z"/><path class="fd" d="M550,1228 V1240 H562 Z"/>
<text x="420.5" y="1252.5">These objects use the simple</text>
<text x="420.5" y="1265.5">objects described above to</text>
<text x="420.5" y="1278.5">create useful structures for the</text>
<text x="420.5" y="1291.5">rest of the data model.</text>
</g>
<g id="XSDataSize">
<rect class="sh" x="618" y="1210" width="109" height="87"/><rect class="bx" x="615" y="1207" width="109" height="87"/>
<line class="dv" x1="615" y1="1244" x2="724" y2="1244"/>
<text class="st" x="719.5" y="1219.5">XSData</text><text class="nm" x="669.5" y="1236">XSDataSize</text>
<text class="at" x="620" y="1258">+</text><text class="at" x="636.5" y="1258">x:  XSDataLength</text>
<text class="at" x="620" y="1271">+</text><text class="at" x="636.5" y="1271">y:  XSDataLength</text>
<text class="at" x="620" y="1284">+</text><text class="at" x="636.5" y="1284">z:  XSDataLength</text>
</g>
<g id="XSDataArray">
<rect class="sh" x="855" y="1205" width="167" height="122"/><rect class="bx" x="852" y="1202" width="167" height="122"/>
<line class="dv" x1="852" y1="1239" x2="1019" y2="1239"/>
<text class="st" x="1014.5" y="1214.5">XSData</text><text class="nm" x="935.5" y="1231">XSDataArray</text>
<text class="at" x="857" y="1253">+</text><text class="at" x="873.5" y="1253">shape:  int [1..*] {ordered}</text>
<text class="at" x="857" y="1266">+</text><text class="at" x="873.5" y="1266">size:  int</text>
<text class="at" x="857" y="1279">+</text><text class="at" x="873.5" y="1279">dtype:  char</text>
<text class="at" x="857" y="1292">+</text><text class="at" x="873.5" y="1292">data:  char</text>
<text class="at" x="857" y="1305">+</text><text class="at" x="873.5" y="1305">coding:  XSDataString [0..1]</text>
<text class="at" x="857" y="1318">+</text><text class="at" x="873.5" y="1318">md5sum:  XSDataString [0..1]</text>
</g>
<g id="note-md5">
<path class="nt" d="M1031,1214 H1190 L1202,1226 V1308 H1031 Z"/><path class="fd" d="M1190,1214 V1226 H1202 Z"/>
<text x="1036.5" y="1238.5">md5 checksum has to be</text>
<text x="1036.5" y="1251.5">calculated on the decoded data,</text>
<text x="1036.5" y="1264.5">not the encoded one.</text>
<text x="1036.5" y="1277.5">Default encoding is "base64"</text>
<text x="1036.5" y="1290.5">default byte order is "little-endian"</text>
<text x="1036.5" y="1303.5">(intel) not "big-endian" (java)</text>
</g>
<g id="XSDataDictionary">
<rect class="sh" x="206" y="1490" width="145" height="67"/><rect class="bx" x="203" y="1487" width="145" height="67"/>
<line class="dv" x1="203" y1="1524" x2="348" y2="1524"/>
<text class="st" x="343.5" y="1499.5">XSData</text><text class="nm" x="275.5" y="1516">XSDataDictionary</text>
</g>
<g id="XSDataKeyValuePair">
<rect class="sh" x="524" y="1477" width="152" height="91"/><rect class="bx" x="521" y="1474" width="152" height="91"/>
<line class="dv" x1="521" y1="1511" x2="673" y2="1511"/>
<text class="st" x="668.5" y="1486.5">XSData</text><text class="nm" x="597" y="1503">XSDataKeyValuePair</text>
<text class="at" x="526" y="1525">+</text><text class="at" x="542.5" y="1525">value:  XSDataString</text>
<text class="at" x="526" y="1538">+</text><text class="at" x="542.5" y="1538">key:  XSDataString</text>
</g>
</g>
</svg>
